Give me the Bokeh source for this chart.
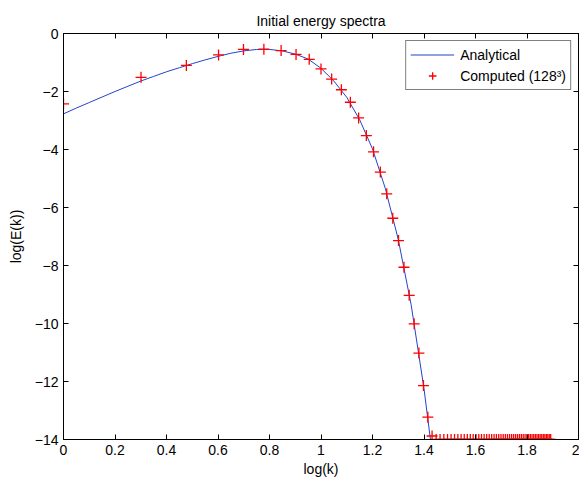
import numpy as np
from bokeh.plotting import figure
from bokeh.models import Range1d, LinearAxis, FixedTicker, Legend, LegendItem
from bokeh.embed import file_html
from bokeh.resources import INLINE

# ---- data ----
# Analytical spectrum (log10 k, log10 E)
analytic_logk = [0.00, 0.05, 0.10, 0.15, 0.20, 0.25, 0.30, 0.35, 0.40, 0.45,
                 0.50, 0.55, 0.60, 0.65, 0.70, 0.75, 0.80, 0.85, 0.90, 0.95,
                 1.00, 1.05, 1.10, 1.15, 1.20, 1.25, 1.30, 1.35, 1.40, 1.425]
analytic_logE = [-2.77, -2.57, -2.38, -2.19, -2.00, -1.82, -1.64, -1.48, -1.32, -1.18,
                 -1.04, -0.91, -0.79, -0.68, -0.60, -0.55, -0.55, -0.60, -0.71, -0.88,
                 -1.20, -1.64, -2.20, -2.97, -3.98, -5.35, -7.10, -9.35, -12.25, -14.0]

# Computed spectrum on 128^3 grid: wavenumbers k = 1..78
computed_k = list(range(1, 79))
computed_logE = [-2.43, -1.51, -1.10, -0.74, -0.55, -0.54, -0.59, -0.72, -0.89, -1.22,
                 -1.57, -1.94, -2.37, -2.91, -3.52, -4.08, -4.78, -5.53, -6.37, -7.14,
                 -8.06, -9.03, -10.01, -11.02, -12.14, -13.23, -13.88] + [-14.0] * 51

x_ticks = [0, 0.2, 0.4, 0.6, 0.8, 1.0, 1.2, 1.4, 1.6, 1.8, 2.0]
x_tick_labels = ["0", "0.2", "0.4", "0.6", "0.8", "1", "1.2", "1.4", "1.6", "1.8", "2"]
y_ticks = [0, -2, -4, -6, -8, -10, -12, -14]
y_tick_labels = ["0", "\u22122", "\u22124", "\u22126", "\u22128", "\u221210", "\u221212", "\u221214"]

title_text = "Initial energy spectra"
x_label = "log(k)"
y_label = "log(E(k))"
legend_labels = ["Analytical", "Computed (128\u00b3)"]

computed_logk = np.log10(np.array(computed_k, dtype=float))

FONT = "Liberation Sans"
FS = "14px"

p = figure(frame_width=515, frame_height=406,
           x_range=Range1d(0, 2), y_range=Range1d(-14, 0),
           output_backend="svg", toolbar_location=None,
           min_border_left=63, min_border_right=1, min_border_top=33, min_border_bottom=42,
           background_fill_color="white", border_fill_color="white")

p.title.text = title_text
p.title.align = "center"
p.title.text_font = FONT
p.title.text_font_size = FS
p.title.text_font_style = "normal"
p.title.text_color = "black"
p.title.offset = 0

p.grid.visible = False
p.outline_line_color = "black"
p.outline_line_width = 1

def style_axis(ax, ticks, labels, show_labels=True):
    ax.ticker = FixedTicker(ticks=ticks)
    ax.major_tick_in = 5
    ax.major_tick_out = 0
    ax.minor_tick_line_color = None
    ax.major_tick_line_color = "black"
    ax.axis_line_color = "black"
    ax.major_label_text_font = FONT
    if show_labels:
        ax.major_label_overrides = {t: l for t, l in zip(ticks, labels)}
        ax.major_label_text_font_size = FS
        ax.major_label_text_color = "black"
    else:
        ax.major_label_text_font_size = "1px"
        ax.major_label_text_color = None
    ax.axis_label_text_font = FONT
    ax.axis_label_text_font_size = FS
    ax.axis_label_text_font_style = "normal"
    ax.axis_label_text_color = "black"

style_axis(p.xaxis[0], x_ticks, x_tick_labels)
p.xaxis[0].axis_label = x_label
p.xaxis[0].major_label_standoff = 5
p.xaxis[0].axis_label_standoff = 3

style_axis(p.yaxis[0], y_ticks, y_tick_labels)
p.yaxis[0].axis_label = y_label
p.yaxis[0].major_label_standoff = 5
p.yaxis[0].axis_label_standoff = 8

top_ax = LinearAxis()
style_axis(top_ax, x_ticks, x_tick_labels, show_labels=False)
top_ax.major_label_standoff = 0
p.add_layout(top_ax, "above")

right_ax = LinearAxis()
style_axis(right_ax, y_ticks, y_tick_labels, show_labels=False)
right_ax.major_label_standoff = 0
p.add_layout(right_ax, "right")

line_r = p.line(analytic_logk, analytic_logE, line_color="#2443c8", line_width=1)
mark_r = p.scatter(computed_logk, computed_logE, marker="cross", size=11,
                   line_color="#ff0000", line_width=1.3)

legend = Legend(items=[LegendItem(label=legend_labels[0], renderers=[line_r]),
                       LegendItem(label=legend_labels[1], renderers=[mark_r])],
                location="top_right")
legend.margin = 7
legend.padding = 4
legend.spacing = 2
legend.label_height = 19
legend.glyph_height = 19
legend.glyph_width = 44
legend.label_standoff = 6
legend.label_text_font = FONT
legend.label_text_font_size = FS
legend.label_text_color = "black"
legend.border_line_color = "black"
legend.border_line_width = 1
legend.background_fill_color = "white"
legend.background_fill_alpha = 1
p.add_layout(legend, "center")

open("out.html", "w").write(file_html(p, INLINE))
